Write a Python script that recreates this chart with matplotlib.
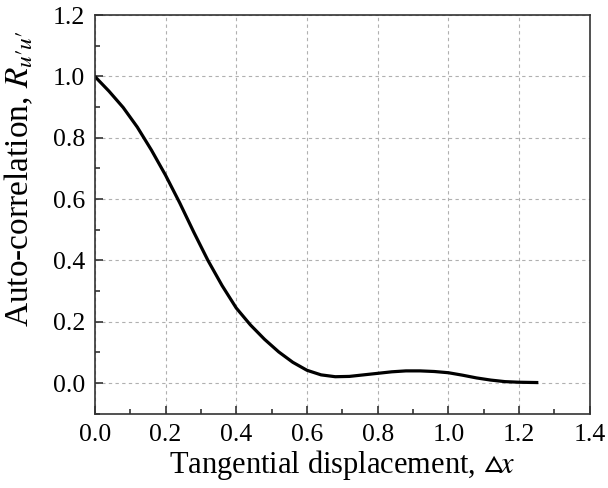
import numpy as np
import matplotlib.pyplot as plt
from matplotlib.ticker import MultipleLocator

plt.rcParams['font.family'] = 'Liberation Serif'
plt.rcParams['mathtext.fontset'] = 'stix'

# auto-correlation vs tangential displacement
dx = [0.0, 0.04, 0.08, 0.12, 0.16, 0.2, 0.24, 0.28, 0.32, 0.36,
      0.4, 0.44, 0.48, 0.52, 0.56, 0.6, 0.64, 0.68, 0.72, 0.76,
      0.8, 0.84, 0.88, 0.92, 0.96, 1.0, 1.04, 1.08, 1.12, 1.16,
      1.2, 1.25]
r_uu = [1.0, 0.952, 0.899, 0.835, 0.760, 0.678, 0.588, 0.492, 0.400, 0.318,
        0.245, 0.190, 0.143, 0.102, 0.068, 0.042, 0.027, 0.021, 0.022, 0.027,
        0.032, 0.037, 0.040, 0.040, 0.038, 0.034, 0.026, 0.017, 0.010, 0.005,
        0.003, 0.002]

fig = plt.figure(figsize=(6.08, 4.88), dpi=100)
ax = fig.add_axes([0.156, 0.152, 0.814, 0.817])

ax.plot(dx, r_uu, color='black', lw=2.3, solid_joinstyle='round')

ax.set_xlim(0, 1.4)
ax.set_ylim(-0.1, 1.2)
ax.xaxis.set_major_locator(MultipleLocator(0.2))
ax.xaxis.set_minor_locator(MultipleLocator(0.1))
ax.yaxis.set_major_locator(MultipleLocator(0.2))
ax.yaxis.set_minor_locator(MultipleLocator(0.1))
ax.xaxis.set_major_formatter(plt.FormatStrFormatter('%.1f'))
ax.yaxis.set_major_formatter(plt.FormatStrFormatter('%.1f'))

ax.grid(True, which='major', ls=(0, (3, 3)), color='#b0b0b0', lw=0.8)
ax.tick_params(which='both', direction='in', top=False, right=False,
               labelsize=18.5, pad=7, color='#333333')
ax.tick_params(which='major', length=6, width=1.2)
ax.tick_params(which='minor', length=3.5, width=1.2)
for s in ax.spines.values():
    s.set_linewidth(1.2)
    s.set_color('#333333')

ax.set_xlabel(r'Tangential displacement, $\vartriangle\!x$', fontsize=22, labelpad=2)
ax.set_ylabel(r"Auto-correlation, $R_{u\prime u\prime}$", fontsize=24)
ax.yaxis.set_label_coords(-0.12, 0.59)

fig.savefig('out.png', dpi=100)
